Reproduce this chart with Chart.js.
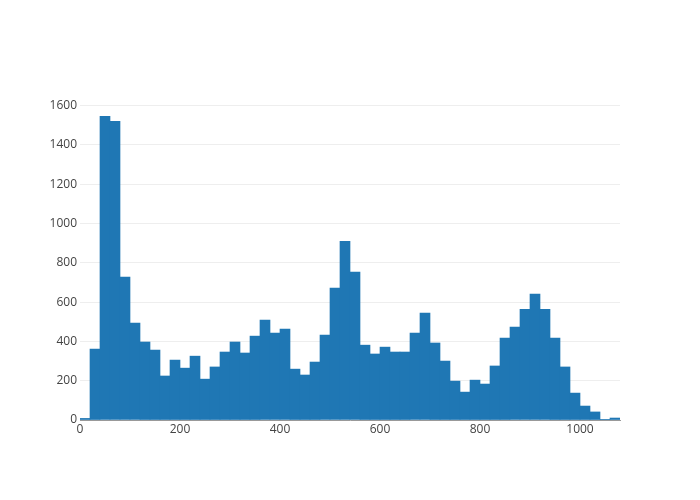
<!DOCTYPE html>
<html>
<head>
<meta charset="utf-8">
<script src="https://cdn.jsdelivr.net/npm/chart.js@4"></script>
<style>
  html, body { margin: 0; padding: 0; background: #fff; }
  #wrap { width: 700px; height: 500px; }
</style>
</head>
<body>
<div id="wrap"><canvas id="histChart" width="700" height="500"></canvas></div>
<script>
// histogram bins: left edges, width 20
const binStart = 0;
const binWidth = 20;
const counts = [
    8, 361, 1546, 1520, 727, 493, 397, 356, 224, 305,
    264, 325, 208, 270, 346, 397, 341, 427, 509, 442,
    463, 259, 229, 295, 432, 671, 910, 753, 381, 336,
    371, 346, 346, 442, 544, 392, 300, 198, 142, 203,
    183, 275, 417, 473, 564, 641, 564, 417, 270, 137,
    71, 41, 1, 10
];
const xTicks = [0, 200, 400, 600, 800, 1000];
const yTicks = [0, 200, 400, 600, 800, 1000, 1200, 1400, 1600];

const points = counts.map((c, i) => ({ x: binStart + binWidth * i + binWidth / 2, y: c }));

Chart.defaults.font.family = '"Open Sans", sans-serif';
Chart.defaults.font.size = 12;
Chart.defaults.color = '#444';

const ctx = document.getElementById('histChart').getContext('2d');
const histChart = new Chart(ctx, {
    type: 'bar',
    data: {
        datasets: [{
            data: points,
            backgroundColor: '#1f77b4',
            borderWidth: 0,
            barPercentage: 1,
            categoryPercentage: 1
        }]
    },
    options: {
        responsive: false,
        animation: false,
        layout: { padding: { top: 100, right: 80, left: 0, bottom: 0 } },
        plugins: { legend: { display: false }, tooltip: { enabled: false } },
        scales: {
            x: {
                type: 'linear',
                offset: false,
                min: 0,
                max: 1080,
                afterBuildTicks: (scale) => { scale.ticks = xTicks.map(v => ({ value: v })); },
                afterFit: (scale) => { scale.height = 80; },
                ticks: { padding: 2, maxRotation: 0, callback: (v) => String(v) },
                grid: { display: false, drawTicks: false },
                border: { display: true, color: '#999', width: 1 }
            },
            y: {
                min: 0,
                max: 1629,
                afterBuildTicks: (scale) => { scale.ticks = yTicks.map(v => ({ value: v })); },
                afterFit: (scale) => { scale.width = 80; },
                ticks: { padding: 3, callback: (v) => String(v) },
                grid: { color: '#eee', drawTicks: false },
                border: { display: false }
            }
        }
    }
});
</script>
</body>
</html>
